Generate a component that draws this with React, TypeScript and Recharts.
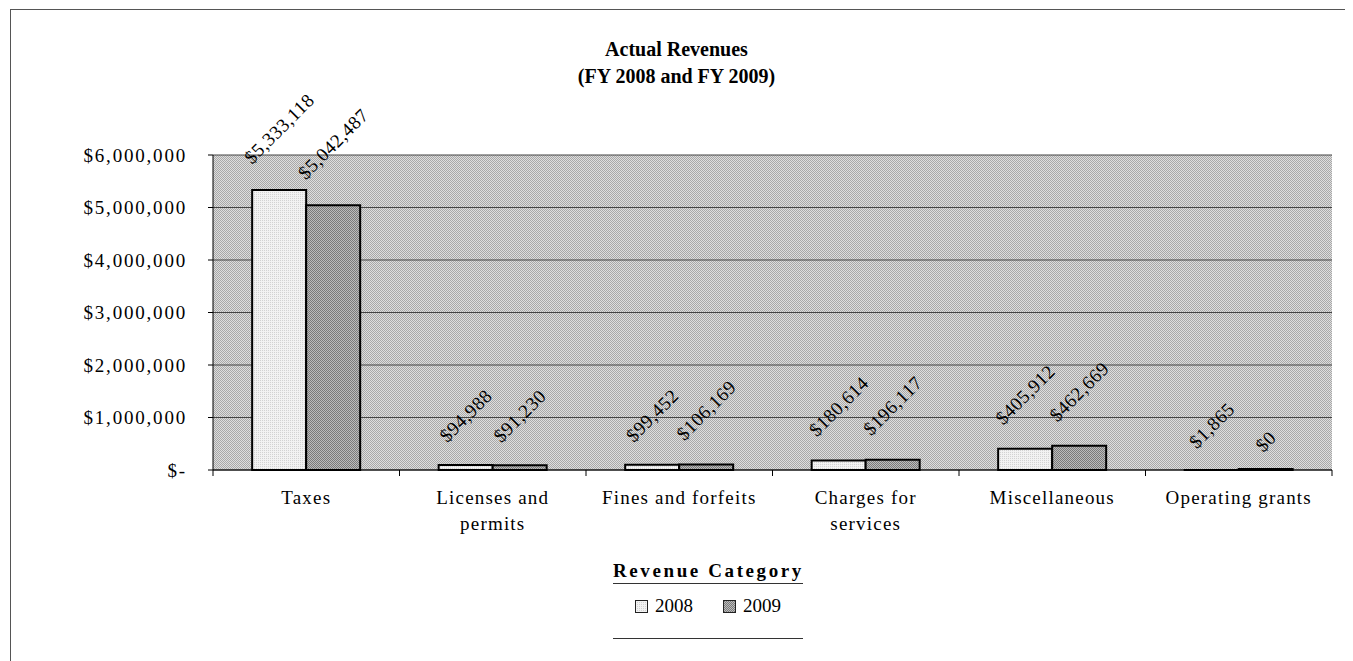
import React from "react";
import {
  BarChart,
  Bar,
  XAxis,
  YAxis,
  CartesianGrid,
  Legend,
  LabelList,
} from "recharts";

const categories = [
  "Taxes",
  "Licenses and permits",
  "Fines and forfeits",
  "Charges for services",
  "Miscellaneous",
  "Operating grants",
];
const categoryLines = [
  ["Taxes"],
  ["Licenses and", "permits"],
  ["Fines and forfeits"],
  ["Charges for", "services"],
  ["Miscellaneous"],
  ["Operating grants"],
];
const fy2008 = [5333118, 94988, 99452, 180614, 405912, 1865];
const fy2009 = [5042487, 91230, 106169, 196117, 462669, 0];
const yTicks = [0, 1000000, 2000000, 3000000, 4000000, 5000000, 6000000];

const data = categories.map((name, i) => ({
  name,
  y2008: fy2008[i],
  y2009: fy2009[i],
}));

const FONT = '"Liberation Serif", "Times New Roman", serif';
const W = 1345;
const H = 653;
const Y_AXIS_W = 60;
const X_AXIS_H = 30;
const margin = { top: 147, right: 21, left: 205 - Y_AXIS_W, bottom: 191 - X_AXIS_H };
const band = (W - 205 - margin.right) / categories.length;

const money = (v: number) => "$" + v.toLocaleString("en-US");

// rotated label sits just above the bar, like Excel's -45° data labels
const DataLabel = (props: any) => {
  const { x, y, width, value } = props;
  const text = money(value);
  const fs = 19;
  let est = 0;
  for (const c of text) est += c === "," ? 0.25 * fs : 0.5 * fs;
  est += text.length * 0.5;
  const cx = x + width / 2;
  const cy = y - 18 - est * 0.48;
  return (
    <text
      x={cx}
      y={cy}
      textAnchor="middle"
      dominantBaseline="central"
      transform={`rotate(-45, ${cx}, ${cy})`}
      fontFamily={FONT}
      fontSize={fs}
      letterSpacing={0.5}
      fill="#000"
    >
      {text}
    </text>
  );
};

const XTick = (props: any) => {
  const { x, y, index } = props;
  const lines = categoryLines[index] || [];
  const half = band / 2;
  return (
    <g>
      <line x1={x - half} y1={y} x2={x - half} y2={y + 6} stroke="#000" />
      {index === categories.length - 1 && (
        <line x1={x + half} y1={y} x2={x + half} y2={y + 6} stroke="#000" />
      )}
      {lines.map((l, i) => (
        <text
          key={i}
          x={x}
          y={y + 34 + i * 26}
          textAnchor="middle"
          fontFamily={FONT}
          fontSize={19}
          letterSpacing={1.2}
          fill="#000"
        >
          {l}
        </text>
      ))}
    </g>
  );
};

const LegendBox = () => (
  <div style={{ width: 190, fontFamily: FONT, color: "#000", textAlign: "center" }}>
    <div
      style={{
        fontWeight: "bold",
        fontSize: 19,
        letterSpacing: 2.6,
        lineHeight: "22px",
        borderBottom: "1px solid #333",
        paddingBottom: 1,
        whiteSpace: "nowrap",
      }}
    >
      Revenue Category
    </div>
    <div
      style={{
        fontSize: 19,
        lineHeight: "22px",
        marginTop: 11,
        display: "flex",
        justifyContent: "center",
        gap: 30,
      }}
    >
      {[
        { key: "2008", fill: "url(#bar2008)" },
        { key: "2009", fill: "url(#bar2009)" },
      ].map((it) => (
        <span key={it.key} style={{ display: "inline-flex", alignItems: "center", gap: 7 }}>
          <svg width={13} height={13}>
            <rect x={0.5} y={0.5} width={12} height={12} fill={it.fill} stroke="#222" />
          </svg>
          {it.key}
        </span>
      ))}
    </div>
    <div style={{ borderTop: "1px solid #333", marginTop: 21 }} />
  </div>
);

export default function App() {
  return (
    <div style={{ position: "relative", width: W, height: H }}>
      <div
        style={{
          position: "absolute",
          left: 2,
          top: 1,
          width: 1339,
          height: 660,
          borderTop: "1px solid #555",
          borderLeft: "1px solid #555",
          borderRight: "1px solid #555",
        }}
      />
      <div
        style={{
          position: "absolute",
          left: 0,
          top: 28,
          width: 1337,
          textAlign: "center",
          fontFamily: FONT,
          fontWeight: "bold",
          fontSize: 20,
          lineHeight: "27px",
          color: "#000",
        }}
      >
        Actual Revenues
        <br />
        (FY 2008 and FY 2009)
      </div>
      <BarChart
        width={W}
        height={H}
        data={data}
        margin={margin}
        barCategoryGap="21%"
        barGap={0}
        style={{ position: "absolute", left: 0, top: 0 }}
      >
        <defs>
          <pattern id="plotBg" width={2} height={2} patternUnits="userSpaceOnUse">
            <rect width={2} height={2} fill="#dedede" />
            <rect width={1} height={1} fill="#a8a8a8" />
            <rect x={1} y={1} width={1} height={1} fill="#a8a8a8" />
          </pattern>
          <pattern id="bar2008" width={2} height={2} patternUnits="userSpaceOnUse">
            <rect width={2} height={2} fill="#f2f2f2" />
            <rect width={1} height={1} fill="#d2d2d2" />
          </pattern>
          <pattern id="bar2009" width={2} height={2} patternUnits="userSpaceOnUse">
            <rect width={2} height={2} fill="#bcbcbc" />
            <rect width={1} height={1} fill="#7a7a7a" />
            <rect x={1} y={1} width={1} height={1} fill="#7a7a7a" />
          </pattern>
        </defs>
        <CartesianGrid
          vertical={false}
          stroke="#444"
          fill="url(#plotBg)"
          fillOpacity={1}
        />
        <XAxis
          dataKey="name"
          axisLine={{ stroke: "#000" }}
          tickLine={false}
          tickSize={0}
          tickMargin={0}
          interval={0}
          tick={<XTick />}
          height={X_AXIS_H}
        />
        <YAxis
          domain={[0, 6000000]}
          ticks={yTicks}
          interval={0}
          width={Y_AXIS_W}
          axisLine={{ stroke: "#000" }}
          tickLine={{ stroke: "#000" }}
          tickSize={5}
          tickMargin={21}
          tickFormatter={(v: number) => (v === 0 ? "$-" : money(v))}
          tick={{ fontFamily: FONT, fontSize: 19, fill: "#000", letterSpacing: 1.8 }}
        />
        <Legend
          layout="horizontal"
          verticalAlign="middle"
          align="center"
          wrapperStyle={{ top: 552, left: 605, width: 190 }}
          content={<LegendBox />}
        />
        <Bar
          dataKey="y2008"
          name="2008"
          fill="url(#bar2008)"
          stroke="#000"
          strokeWidth={2}
          isAnimationActive={false}
        >
          <LabelList dataKey="y2008" content={<DataLabel />} />
        </Bar>
        <Bar
          dataKey="y2009"
          name="2009"
          fill="url(#bar2009)"
          stroke="#000"
          strokeWidth={2}
          minPointSize={1}
          isAnimationActive={false}
        >
          <LabelList dataKey="y2009" content={<DataLabel />} />
        </Bar>
      </BarChart>
    </div>
  );
}
